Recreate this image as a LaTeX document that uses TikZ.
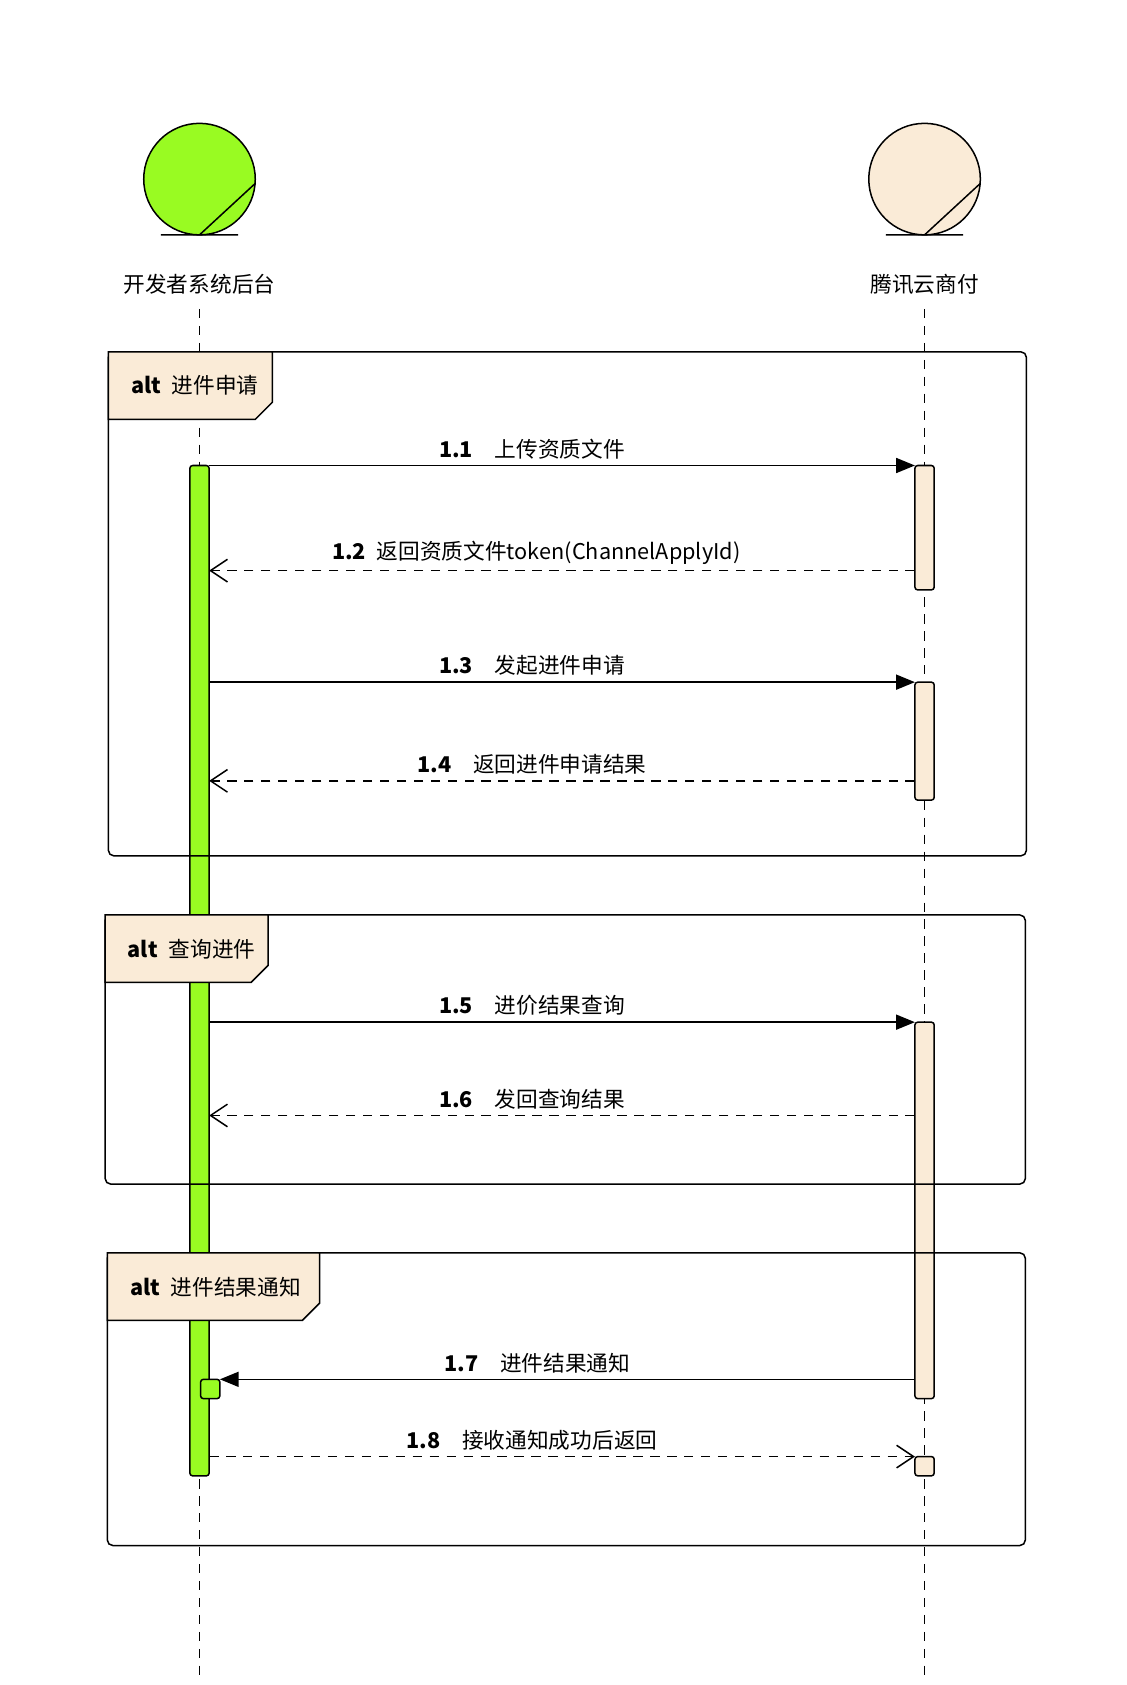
\documentclass[tikz,border=0pt]{standalone}
\usepackage{fontspec}
\setmainfont{Noto Sans CJK SC}
\usetikzlibrary{arrows.meta}
\definecolor{grn}{HTML}{99FB22}
\definecolor{bei}{HTML}{FAEBD7}
\tikzset{
 px/.style={x=0.02cm,y=-0.02cm},
 life/.style={dashed,dash pattern=on 5pt off 4pt,line width=0.6pt},
 frm/.style={draw,rounded corners=3pt,line width=0.8pt},
 lab/.style={draw,fill=bei,line width=0.8pt},
 actg/.style={draw,fill=grn,rounded corners=1.5pt,line width=0.8pt},
 actb/.style={draw,fill=bei,rounded corners=1.5pt,line width=0.8pt},
 sync/.style={line width=0.8pt,-{Triangle[length=10pt,width=8pt]}},
 ret/.style={line width=0.8pt,dashed,dash pattern=on 5pt off 4pt,-{Straight Barb[length=9pt,width=12pt]}},
 msg/.style={font=\fontsize{11.5}{13}\selectfont,anchor=south,inner sep=2pt},
 txt/.style={font=\fontsize{11.5}{13}\selectfont}
}
\begin{document}
\begin{tikzpicture}[px]
\useasboundingbox (0,0) rectangle (1050,1571);
% lifelines
\coordinate (l1t) at (186,288); \coordinate (l1b) at (186,1562);
\coordinate (l2t) at (862,288); \coordinate (l2b) at (862,1562);
\draw[life] (l1t) -- (l1b);
\draw[life] (l2t) -- (l2b);
% actors
\draw[fill=grn,line width=0.8pt] (186,167) circle (52);
\draw[line width=0.8pt] (150,219) -- (222,219) (186,219) -- (238,171);
\node[txt] (a1) at (186,265) {开发者系统后台};
\draw[fill=bei,line width=0.8pt] (862,167) circle (52);
\draw[line width=0.8pt] (826,219) -- (898,219) (862,219) -- (914,171);
\node[txt] (a2) at (862,265) {腾讯云商付};
% activations
\draw[actg] (177,434) rectangle (195,1376);
\draw[actg] (187,1286) rectangle (205,1304);
\draw[actb] (853,434) rectangle (871,550);
\draw[actb] (853,636) rectangle (871,746);
\draw[actb] (853,953) rectangle (871,1304);
\draw[actb] (853,1358) rectangle (871,1376);
% frames
\draw[frm] (101,328) rectangle (957,798);
\draw[lab] (101,328) -- (254,328) -- (254,375) -- (238,391) -- (101,391) -- cycle;
\node[txt,anchor=west] (f1) at (116,359) {\textbf{alt}\enspace 进件申请};
\draw[frm] (98,853) rectangle (956,1104);
\draw[lab] (98,853) -- (250,853) -- (250,900) -- (234,916) -- (98,916) -- cycle;
\node[txt,anchor=west] (f2) at (113,885) {\textbf{alt}\enspace 查询进件};
\draw[frm] (100,1168) rectangle (956,1441);
\draw[lab] (100,1168) -- (298,1168) -- (298,1215) -- (282,1231) -- (100,1231) -- cycle;
\node[txt,anchor=west] (f3) at (115,1200) {\textbf{alt}\enspace 进件结果通知};
% messages
\coordinate (s1) at (195,434); \coordinate (e1) at (853,434);
\draw[sync] (s1) -- (e1);
\node[msg] at (496,432) {\textbf{1.1}\quad 上传资质文件};
\coordinate (s2) at (853,532); \coordinate (e2) at (195,532);
\draw[ret] (s2) -- (e2);
\node[msg] at (500,530) {\textbf{1.2}\enspace 返回资质文件token(ChannelApplyId)};
\coordinate (s3) at (195,636); \coordinate (e3) at (853,636);
\draw[sync] (s3) -- (e3);
\node[msg] at (496,634) {\textbf{1.3}\quad 发起进件申请};
\coordinate (s4) at (853,728); \coordinate (e4) at (195,728);
\draw[ret] (s4) -- (e4);
\node[msg] at (496,726) {\textbf{1.4}\quad 返回进件申请结果};
\coordinate (s5) at (195,953); \coordinate (e5) at (853,953);
\draw[sync] (s5) -- (e5);
\node[msg] at (496,951) {\textbf{1.5}\quad 进价结果查询};
\coordinate (s6) at (853,1040); \coordinate (e6) at (195,1040);
\draw[ret] (s6) -- (e6);
\node[msg] at (496,1038) {\textbf{1.6}\quad 发回查询结果};
\coordinate (s7) at (853,1286); \coordinate (e7) at (205,1286);
\draw[sync] (s7) -- (e7);
\node[msg] at (501,1284) {\textbf{1.7}\quad 进件结果通知};
\coordinate (s8) at (195,1358); \coordinate (e8) at (853,1358);
\draw[ret] (s8) -- (e8);
\node[msg] at (496,1356) {\textbf{1.8}\quad 接收通知成功后返回};
\end{tikzpicture}
\end{document}
